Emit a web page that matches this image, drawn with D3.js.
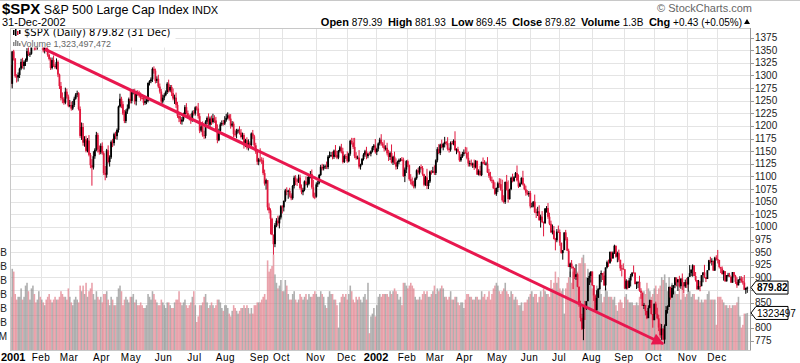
<!DOCTYPE html>
<html>
<head>
<meta charset="utf-8">
<script src="https://cdn.jsdelivr.net/npm/d3@7"></script>
<style>
  body { margin: 0; background: #fff; }
  svg { display: block; font-family: Arial, "Liberation Sans", sans-serif; }
</style>
</head>
<body>
<div id="chart"></div>
<script>
// month labels along the bottom and trading days in each month (2001, 2002)
const monthLabels = ['2001','Feb','Mar','Apr','May','Jun','Jul','Aug','Sep','Oct','Nov','Dec',
                     '2002','Feb','Mar','Apr','May','Jun','Jul','Aug','Sep','Oct','Nov','Dec'];
const monthDays = [21,19,22,20,22,21,21,23,15,23,21,20, 21,19,20,22,22,20,22,22,20,23,20,21];

const priceTicks = [775,800,825,850,875,900,925,950,975,1000,1025,1050,1075,1100,1125,1150,1175,1200,1225,1250,1275,1300,1325,1350,1375];
const volTicks = [0.5,1.0,1.5,2.0,2.5,3.0,3.5];
const volTickLabels = ['500M','1.0B','1.5B','2.0B','2.5B','3.0B','3.5B'];

const firstOpen = 1320.28;

// daily closes
const closes = [
  // 2001
  1283.27,1347.56,1333.34,1298.35,1295.86,1300.80,1313.27,1326.82,1318.55,1326.65,1329.47,1347.97,1342.54,1342.90,1360.40,1364.30,1357.51,1354.95,1364.17,1373.73,1366.01,
  1373.47,1349.47,1354.31,1352.26,1340.89,1332.53,1314.76,1330.31,1318.80,1315.92,1326.61,1301.53,1278.94,1255.27,1252.82,1245.86,1267.65,1257.94,1239.94,
  1241.23,1234.18,1241.41,1253.80,1261.89,1264.74,1233.42,1180.16,1197.66,1166.71,1173.56,1150.53,1170.81,1142.62,1122.14,1117.58,1139.83,1152.69,1182.17,1153.29,1147.95,1160.33,
  1145.87,1106.46,1103.25,1151.44,1128.43,1137.59,1168.38,1165.89,1183.50,1179.68,1191.81,1238.16,1253.69,1242.98,1224.36,1209.47,1228.75,1234.52,1253.05,1249.46,
  1266.44,1267.43,1248.58,1266.61,1263.51,1261.20,1255.54,1255.18,1245.67,1248.92,1249.44,1284.99,1288.49,1291.96,1312.83,1309.38,1289.05,1293.17,1277.89,1267.93,1248.08,1255.82,
  1260.67,1267.11,1283.57,1270.03,1276.96,1264.96,1254.39,1255.85,1241.60,1219.87,1214.36,1208.43,1212.58,1223.14,1237.04,1225.35,1218.60,1216.76,1211.07,1226.20,1224.38,
  1236.72,1234.45,1219.24,1190.59,1198.78,1181.52,1180.18,1208.14,1215.68,1202.45,1214.44,1207.71,1215.02,1210.85,1191.03,1171.65,1190.49,1202.93,1205.82,1204.52,1211.23,
  1215.93,1220.75,1214.35,1200.48,1204.40,1183.53,1183.43,1190.16,1191.29,1186.73,1178.02,1181.66,1161.97,1171.41,1157.26,1165.31,1162.09,1184.93,1179.21,1161.51,1148.56,1129.03,1133.58,
  1132.94,1131.74,1106.40,1085.78,1092.54,1038.77,1032.74,1016.10,984.54,965.80,1003.45,1012.27,1007.04,1018.61,1040.94,
  1038.55,1051.33,1072.28,1069.63,1071.38,1062.44,1056.75,1080.99,1097.43,1091.65,1089.98,1097.54,1077.09,1068.61,1073.48,1089.90,1084.78,1085.20,1100.09,1104.61,1078.30,1059.79,1059.78,
  1084.10,1087.20,1102.84,1118.86,1115.80,1118.54,1120.31,1118.33,1139.09,1141.21,1142.24,1138.65,1151.06,1142.66,1137.03,1150.34,1157.42,1149.50,1128.52,1140.20,1139.45,
  1129.90,1144.80,1170.35,1167.10,1158.31,1139.93,1136.76,1137.07,1119.38,1123.09,1134.36,1142.92,1149.56,1139.93,1144.89,1144.65,1149.37,1157.13,1161.02,1148.08,
  // 2002
  1154.67,1165.27,1172.51,1164.89,1160.71,1155.14,1156.55,1145.60,1138.41,1146.19,1127.57,1138.88,1127.58,1119.31,1128.18,1132.15,1133.28,1133.06,1100.64,1113.57,1130.20,
  1122.20,1094.44,1090.02,1083.51,1080.17,1096.22,1111.94,1107.50,1118.51,1116.48,1104.18,1083.34,1097.98,1080.95,1089.84,1109.43,1109.38,1109.89,1106.73,
  1131.78,1153.84,1146.14,1162.77,1157.54,1164.31,1168.26,1165.58,1154.09,1153.04,1166.16,1165.55,1170.29,1151.85,1153.59,1148.70,1131.87,1138.49,1144.58,1147.39,
  1146.54,1136.76,1125.40,1126.34,1122.73,1125.29,1117.80,1130.47,1103.69,1111.01,1102.55,1128.37,1126.07,1124.47,1125.17,1107.83,1100.96,1093.14,1091.48,1076.32,1065.45,1076.92,
  1086.46,1084.56,1073.43,1052.67,1049.49,1088.85,1073.01,1054.99,1074.56,1097.28,1091.07,1098.23,1106.59,1091.88,1079.88,1086.02,1097.08,1083.82,1074.55,1067.66,1064.66,1067.14,
  1040.68,1040.69,1049.90,1029.15,1027.53,1030.74,1013.60,1020.26,1009.56,1007.27,1036.17,1037.14,1019.99,1006.29,989.14,992.72,976.14,973.53,990.64,989.82,
  968.65,948.09,953.99,989.03,976.98,952.83,920.47,927.37,921.39,917.93,900.94,906.04,881.56,847.75,819.85,797.70,843.43,838.68,852.84,898.96,902.78,911.62,
  884.66,864.24,834.60,859.57,876.77,905.46,908.64,903.80,884.21,919.62,930.25,928.77,950.70,937.43,949.36,962.70,940.86,947.95,934.82,917.87,917.80,916.07,
  878.02,893.40,879.15,893.92,902.96,909.58,909.45,886.91,889.81,891.10,873.52,869.46,843.32,845.39,833.70,819.29,839.66,854.95,827.37,815.28,
  847.91,827.91,818.95,800.58,785.28,798.55,776.76,803.92,835.32,841.44,881.27,860.02,879.20,884.39,899.72,890.16,896.14,882.50,897.65,890.23,882.15,890.71,885.76,
  900.96,908.35,915.39,923.76,902.65,894.74,876.19,882.95,882.53,904.27,909.83,900.36,896.74,914.15,933.76,930.55,932.87,913.31,938.87,936.31,
  934.53,920.75,917.58,906.55,912.23,892.00,904.45,904.96,901.58,889.48,910.40,902.99,891.12,884.25,895.76,897.38,892.47,889.66,875.40,879.39,879.82
];

// high above the candle body, points
const wickHi = [
  0,0,3,1,4,5,2,6,8,3,4,6,8,3,5,4,6,5,3,10,10,
  10,2,8,4,9,2,3,5,9,4,7,3,2,8,11,4,8,6,4,
  10,7,8,4,3,5,2,5,9,8,6,7,5,11,4,12,10,3,6,4,8,5,
  7,4,14,3,10,4,3,6,3,5,3,2,10,4,6,7,4,8,3,16,
  2,5,6,3,4,6,5,7,4,6,5,1,2,4,3,5,4,5,8,6,5,6,
  4,3,3,8,4,4,9,6,10,6,4,5,5,3,4,8,5,4,7,4,5,
  2,3,11,6,5,10,9,3,3,9,4,6,9,6,7,12,4,4,5,6,8,
  8,6,3,9,5,4,9,4,3,8,7,5,4,3,6,8,4,2,7,3,5,4,3,
  22,5,5,7,3,0,8,4,2,0,4,5,10,4,2,
  2,1,3,6,2,6,4,2,4,5,3,6,6,7,4,2,10,14,2,6,9,15,8,
  4,4,2,4,6,5,3,9,3,8,6,7,2,11,8,2,3,7,7,3,4,
  10,2,2,6,9,18,8,4,15,2,2,3,3,9,2,4,2,3,3,13,
  2,2,4,11,3,11,5,10,7,3,17,2,10,8,3,3,3,5,4,4,2,
  3,1,10,8,8,2,2,5,2,5,4,1,3,17,3,2,3,9,12,
  2,4,10,2,10,2,10,2,12,3,3,4,3,19,2,5,1,5,4,6,
  11,11,12,5,7,2,8,2,1,3,10,1,9,6,4,13,7,8,6,2,12,1,
  3,10,11,20,10,1,14,19,1,2,8,2,2,15,12,2,1,14,2,7,5,4,
  4,7,1,14,7,9,12,4,11,1,1,4,10,8,6,12,9,2,5,12,
  5,0,0,0,5,3,4,2,7,0,1,20,2,0,6,8,1,10,0,0,7,0,
  0,0,0,15,2,0,5,0,8,0,3,5,0,0,2,2,0,3,7,0,7,10,
  0,3,0,5,4,0,14,0,2,1,12,5,0,4,0,0,5,1,0,0,
  0,4,12,7,8,9,0,3,8,3,0,0,6,0,1,0,0,7,0,10,0,5,8,
  0,16,0,2,0,8,0,12,10,0,0,15,0,0,1,7,5,0,2,5,
  18,0,0,4,2,0,0,4,4,0,0,0,2,9,0,5,5,8,15,0,2
];

// low below the candle body, points
const wickLo = [
  7,9,4,3,10,8,6,3,5,7,8,3,4,6,2,4,8,5,4,2,6,
  5,4,6,6,4,3,4,3,2,3,4,5,6,5,8,4,3,4,3,
  3,4,3,4,2,5,3,4,8,6,8,3,3,3,6,36,4,5,3,6,5,4,
  3,4,11,6,3,9,3,8,5,6,7,5,2,8,3,4,4,5,2,5,
  5,4,6,8,4,5,6,3,5,4,6,3,5,4,5,6,5,4,3,4,5,4,
  5,2,4,4,3,6,4,11,6,4,7,5,6,4,5,3,4,6,7,3,4,
  4,4,5,5,3,3,6,5,5,4,5,6,3,5,3,6,2,4,3,4,3,
  3,3,4,6,3,6,5,8,5,4,3,5,7,4,4,6,4,3,5,4,4,6,7,
  5,7,4,4,12,6,6,31,1,21,6,4,6,10,4,
  12,8,2,7,14,4,4,3,5,9,9,3,3,4,6,3,3,7,3,4,3,3,5,
  2,5,3,2,4,4,4,4,4,3,3,5,4,5,3,3,3,4,3,2,5,
  3,2,4,4,4,4,4,3,4,6,1,3,4,6,4,3,5,2,5,3,
  6,5,4,4,4,6,4,4,8,6,2,5,4,6,5,4,3,3,2,12,7,
  4,3,6,3,4,4,3,4,4,3,3,3,2,6,6,3,6,3,4,
  4,4,2,4,2,6,7,4,3,6,4,3,4,1,8,2,3,3,2,4,
  1,3,6,6,3,6,5,2,1,2,2,2,2,2,3,1,4,3,5,1,2,4,
  8,7,2,3,3,4,1,7,1,2,3,2,1,2,3,1,2,2,2,6,2,5,
  4,1,2,2,10,6,2,15,2,26,1,8,4,3,1,4,1,20,4,2,
  6,1,13,0,4,1,0,20,4,41,4,6,1,6,7,2,22,23,3,0,14,13,
  2,11,1,0,0,1,15,9,1,10,2,8,2,6,0,3,2,11,4,5,16,1,
  1,2,3,0,12,2,1,1,10,11,2,12,0,6,9,2,0,1,1,15,
  0,1,2,7,5,9,1,8,0,7,0,4,0,13,6,8,17,3,5,15,14,3,7,
  14,0,6,14,0,3,0,0,10,0,14,2,6,0,0,3,7,0,0,3,
  7,3,9,1,13,0,0,4,1,0,0,3,4,5,0,7,3,4,0,8,10
];

// daily volume, billions
const volumes = [
  1.9,2.9,2.8,2.0,1.8,1.9,1.9,2.2,1.8,1.9,2.3,2.4,2.1,1.8,2.2,2.3,2.0,1.7,1.8,2.1,1.9,
  1.8,1.7,1.6,1.8,1.9,2.0,1.8,1.7,1.8,1.9,1.8,1.8,1.9,2.1,2.0,1.9,1.9,1.8,2.2,
  1.9,1.7,1.6,1.8,1.9,1.8,1.7,2.3,2.1,2.3,2.0,2.4,1.9,2.1,2.2,2.4,2.0,1.8,2.1,1.9,1.8,1.9,
  1.7,2.0,2.0,2.1,1.8,1.6,1.9,1.8,1.6,1.6,1.9,2.2,2.3,2.1,1.6,1.8,1.9,1.8,1.7,1.9,
  1.9,2.0,1.7,1.8,1.6,1.6,1.7,1.6,1.5,1.5,1.6,2.0,1.9,1.8,2.1,2.0,1.8,1.7,1.6,1.6,1.8,1.7,
  1.6,1.5,1.7,1.7,1.6,1.5,1.5,1.7,1.8,1.8,2.1,1.7,1.6,1.7,1.8,1.6,1.5,1.6,1.7,1.9,2.1,
  1.6,1.0,1.2,1.6,1.6,1.7,1.9,2.0,1.7,1.5,1.6,1.7,1.6,1.5,1.6,1.8,1.8,1.7,1.5,1.4,1.6,
  1.6,1.5,1.3,1.2,1.4,1.6,1.5,1.4,1.3,1.4,1.5,1.5,1.6,1.5,1.6,1.5,1.3,1.5,1.3,1.6,1.6,1.7,1.7,
  1.7,1.8,1.9,2.0,1.8,3.2,2.8,2.9,3.0,3.4,2.7,2.4,2.2,2.3,2.5,
  2.1,2.1,2.5,2.3,2.0,1.8,1.8,2.0,2.1,1.8,1.7,1.8,2.0,1.9,1.8,1.9,2.0,1.8,2.0,1.9,1.9,2.0,2.1,
  2.0,1.9,1.9,2.1,2.0,1.9,1.6,1.5,1.9,2.1,2.0,2.0,1.8,1.8,1.6,0.8,1.7,1.9,2.0,1.9,2.0,
  1.8,2.0,2.3,2.1,1.8,1.7,1.9,1.8,1.9,1.8,1.7,1.9,2.0,1.8,2.4,0.6,1.2,1.3,1.5,1.2,
  1.6,1.9,2.0,1.9,2.0,2.0,2.0,2.0,1.9,2.1,2.0,2.1,2.2,2.1,2.0,1.8,1.9,1.6,2.4,2.4,2.3,
  2.2,2.3,2.4,2.3,2.2,1.9,1.8,1.8,1.9,1.8,2.0,2.1,2.0,2.1,1.9,1.9,2.0,2.1,2.3,
  2.0,2.2,2.1,2.2,2.3,2.2,1.9,1.9,1.8,1.9,2.1,1.8,1.8,1.9,1.9,1.7,1.6,1.7,1.7,1.5,
  1.8,2.0,2.0,1.9,1.9,1.8,1.8,1.9,1.9,1.8,1.8,2.1,1.9,2.0,1.8,1.9,2.1,1.8,2.0,2.2,2.3,2.4,
  2.3,2.1,2.0,2.1,2.2,2.4,2.1,2.0,1.9,2.1,2.0,1.8,1.9,1.8,1.6,1.6,1.7,1.4,1.7,1.7,1.8,1.9,
  2.0,2.1,1.9,2.0,2.0,1.7,1.9,2.1,1.9,2.2,2.1,2.0,2.0,1.9,2.5,2.2,2.4,2.8,2.4,2.6,
  2.2,2.1,2.2,1.3,2.2,2.4,2.6,2.8,2.4,2.8,2.9,2.7,2.8,3.1,3.1,3.3,3.4,3.1,2.6,2.9,2.6,2.5,
  2.2,2.3,2.0,2.3,2.2,2.3,2.0,1.7,1.9,2.2,2.1,1.9,1.9,1.9,1.8,1.9,1.6,1.4,1.7,1.8,1.7,1.5,
  1.9,2.0,1.8,1.7,1.7,1.7,1.6,1.6,1.7,1.6,1.9,2.0,2.1,2.1,2.0,2.4,2.2,2.1,1.9,2.0,
  2.2,2.3,2.0,2.2,2.3,2.6,2.5,2.7,2.4,2.1,2.6,2.2,2.4,2.2,2.1,2.0,2.0,2.2,1.8,2.2,2.0,1.9,2.0,
  2.1,2.1,1.9,2.0,2.0,1.8,1.8,1.9,1.7,1.8,1.7,1.8,1.8,2.0,2.1,1.8,1.8,1.8,1.8,0.9,
  1.9,1.9,1.9,1.8,1.7,1.6,1.6,1.5,1.6,1.5,1.6,1.6,1.6,1.7,1.9,1.2,0.8,0.9,1.3,1.3,1.3235
];

// trend line drawn on the chart: from early Feb 2001 to the Oct 2002 low
const trendFrom = { day: 23, value: 1352 };
const trendTo = { day: 442, value: 768.6 };

const W = 800, H = 363;
const plot = { left: 10, right: 750, top: 28, bottom: 350 };
const upColor = '#000000', downColor = '#e0173d';

const candles = closes.map((c, i) => {
  const o = i === 0 ? firstOpen : closes[i - 1];
  return {
    i, open: o, close: c,
    high: Math.max(o, c) + (wickHi[i] || 0),
    low: Math.min(o, c) - (wickLo[i] || 0),
    vol: volumes[i] || 0,
    up: c >= o
  };
});

const x = d3.scaleLinear().domain([0, closes.length]).range([plot.left, 748]);
const y = d3.scaleLinear().domain([775, 1375]).range([340.5, 37.5]);
const yv = d3.scaleLinear().domain([0, 3.5]).range([plot.bottom, 252]);

const svg = d3.select('#chart').append('svg')
  .attr('width', W).attr('height', H);

svg.append('defs').append('clipPath').attr('id', 'plotclip')
  .append('rect')
  .attr('x', plot.left).attr('y', plot.top)
  .attr('width', plot.right - plot.left).attr('height', plot.bottom - plot.top);

// top rule
svg.append('line').attr('x1', 0).attr('x2', W).attr('y1', 0.5).attr('y2', 0.5)
  .attr('stroke', '#c8c8c8');

// header
const head = svg.append('text').attr('x', 2).attr('y', 14).attr('fill', '#000');
head.append('tspan').text('$SPX').style('font-weight', 'bold').style('font-size', '15px');
head.append('tspan').text(' S&P 500 Large Cap Index').style('font-size', '12.5px');
head.append('tspan').text(' INDX').style('font-size', '11px');

svg.append('text').attr('x', 2).attr('y', 26).style('font-size', '11px').text('31-Dec-2002');

svg.append('text').attr('x', 752).attr('y', 12).attr('text-anchor', 'end')
  .attr('fill', '#666').style('font-size', '11px').text('\u00a9 StockCharts.com');

const quote = svg.append('text').attr('x', 742).attr('y', 26).attr('text-anchor', 'end')
  .attr('xml:space', 'preserve');
[['Open', ' 879.39  '], ['High', ' 881.93  '], ['Low', ' 869.45  '], ['Close', ' 879.82  '],
 ['Volume', ' 1.3B  '], ['Chg', ' +0.43 (+0.05%)']].forEach(([k, v]) => {
  quote.append('tspan').text(k).style('font-weight', 'bold').style('font-size', '11px');
  quote.append('tspan').text(v).style('font-size', '10px');
});
svg.append('path').attr('d', 'M744,24 L747,19 L750,24 Z').attr('fill', '#000');

// grid
const monthStart = [];
monthDays.reduce((acc, d) => { monthStart.push(acc); return acc + d; }, 0);

const grid = svg.append('g');
grid.selectAll('.hg').data(priceTicks).join('line')
  .attr('x1', plot.left).attr('x2', plot.right)
  .attr('y1', d => Math.round(y(d)) + 0.5).attr('y2', d => Math.round(y(d)) + 0.5)
  .attr('stroke', '#e4e4e4');
grid.selectAll('.vg').data(monthStart.slice(1)).join('line')
  .attr('x1', d => Math.round(x(d)) + 0.5).attr('x2', d => Math.round(x(d)) + 0.5)
  .attr('y1', plot.top).attr('y2', plot.bottom)
  .attr('stroke', '#e4e4e4');

const body = svg.append('g').attr('clip-path', 'url(#plotclip)');

// volume bars
const step = x(1) - x(0);
body.append('g').selectAll('rect').data(candles).join('rect')
  .attr('x', d => x(d.i))
  .attr('width', step + 0.1)
  .attr('y', d => yv(d.vol))
  .attr('height', d => plot.bottom - yv(d.vol))
  .attr('fill', d => d.up ? '#8e8e8e' : '#e07a88')
  .attr('fill-opacity', 0.7);

// candles
const cg = body.append('g');
cg.selectAll('line').data(candles).join('line')
  .attr('x1', d => x(d.i + 0.5)).attr('x2', d => x(d.i + 0.5))
  .attr('y1', d => y(d.high)).attr('y2', d => y(d.low))
  .attr('stroke', d => d.up ? upColor : downColor)
  .attr('stroke-width', 1);
cg.selectAll('rect').data(candles).join('rect')
  .attr('x', d => x(d.i + 0.5) - 0.9)
  .attr('width', 1.8)
  .attr('y', d => y(Math.max(d.open, d.close)))
  .attr('height', d => Math.max(1, Math.abs(y(d.open) - y(d.close))))
  .attr('fill', d => d.up ? upColor : downColor);

// trend arrow
svg.select('defs').append('marker')
  .attr('id', 'arrow').attr('viewBox', '0 0 10 10')
  .attr('refX', 9).attr('refY', 5)
  .attr('markerWidth', 5).attr('markerHeight', 4)
  .attr('markerUnits', 'strokeWidth')
  .attr('orient', 'auto')
  .append('path').attr('d', 'M0,0 L10,5 L0,10 Z').attr('fill', '#e8174e');
body.append('line')
  .attr('x1', x(trendFrom.day + 0.5)).attr('y1', y(trendFrom.value))
  .attr('x2', x(trendTo.day + 0.5)).attr('y2', y(trendTo.value))
  .attr('stroke', '#e8174e').attr('stroke-width', 3)
  .attr('marker-end', 'url(#arrow)');

// legend box
const lg = svg.append('g');
lg.append('rect').attr('x', plot.left + 0.5).attr('y', plot.top + 0.5)
  .attr('width', 165).attr('height', 19).attr('fill', '#fff');
// tiny candle icon
[[13, 30, 35, '#000'], [15, 29, 36, '#000'], [17, 31, 35, '#e0173d'], [19, 30, 34, '#000']].forEach(([ix, a, b, c]) => {
  lg.append('rect').attr('x', ix).attr('y', a).attr('width', 1.5).attr('height', b - a).attr('fill', c);
});
lg.append('text').attr('x', 24).attr('y', 36).style('font-family', '"DejaVu Sans", Verdana, sans-serif')
  .style('font-size', '10px')
  .text('$SPX (Daily) 879.82 (31 Dec)');
[[13, 42], [15, 40], [17, 41], [19, 43]].forEach(([ix, t]) => {
  lg.append('rect').attr('x', ix).attr('y', t).attr('width', 1.5).attr('height', 46 - t).attr('fill', '#888');
});
lg.append('text').attr('x', 21).attr('y', 46.5).attr('fill', '#666')
  .style('font-size', '9px')
  .text('Volume 1,323,497,472');

// frame
svg.append('rect').attr('x', plot.left + 0.5).attr('y', plot.top + 0.5)
  .attr('width', plot.right - plot.left).attr('height', plot.bottom - plot.top)
  .attr('fill', 'none').attr('stroke', '#c8c8c8');
svg.append('line').attr('x1', plot.right + 0.5).attr('x2', plot.right + 0.5)
  .attr('y1', plot.top).attr('y2', plot.bottom).attr('stroke', '#999');

// last value tags sit over the axis labels they cover
const last = candles[candles.length - 1];
const tagYs = [y(last.close), yv(last.vol)];

// right price axis
const ra = svg.append('g');
ra.selectAll('line').data(priceTicks).join('line')
  .attr('x1', plot.right).attr('x2', plot.right + 4)
  .attr('y1', d => Math.round(y(d)) + 0.5).attr('y2', d => Math.round(y(d)) + 0.5)
  .attr('stroke', '#999');
ra.selectAll('text').data(priceTicks.filter(d => tagYs.every(t => Math.abs(y(d) - t) > 8))).join('text')
  .attr('x', plot.right + 5).attr('y', d => y(d)).attr('dy', '0.35em')
  .attr('fill', '#222').style('font-size', '10px')
  .text(d => d);

// left volume axis (mostly cut off by the page edge)
svg.append('g').selectAll('text').data(volTicks).join('text')
  .attr('x', 7).attr('y', d => yv(d)).attr('dy', '0.35em').attr('text-anchor', 'end')
  .attr('fill', '#222').style('font-size', '10px')
  .text((d, k) => volTickLabels[k]);

function tag(yy, label, bold) {
  const g = svg.append('g');
  g.append('path')
    .attr('d', `M${plot.right + 1},${yy} L${plot.right + 6},${yy - 6.5} H${plot.right + 38} V${yy + 6.5} H${plot.right + 6} Z`)
    .attr('fill', '#fff').attr('stroke', '#000');
  g.append('text').attr('x', plot.right + 7).attr('y', yy).attr('dy', '0.36em')
    .style('font-size', '10px').style('font-weight', bold ? 'bold' : 'normal')
    .text(label);
}
tag(tagYs[0], '879.82', true);
tag(tagYs[1], '1323497', false);

// bottom month labels
svg.append('g').selectAll('text').data(monthStart).join('text')
  .attr('x', (d, k) => k === 0 ? 1 : x(d))
  .attr('y', 361)
  .attr('text-anchor', (d, k) => k === 0 ? 'start' : 'middle')
  .style('font-size', (d, k) => /^\d/.test(monthLabels[k]) ? '11px' : '10px')
  .style('font-weight', (d, k) => /^\d/.test(monthLabels[k]) ? 'bold' : 'normal')
  .style('letter-spacing', (d, k) => /^\d/.test(monthLabels[k]) ? '0px' : '0.5px')
  .text((d, k) => monthLabels[k]);
</script>
</body>
</html>
